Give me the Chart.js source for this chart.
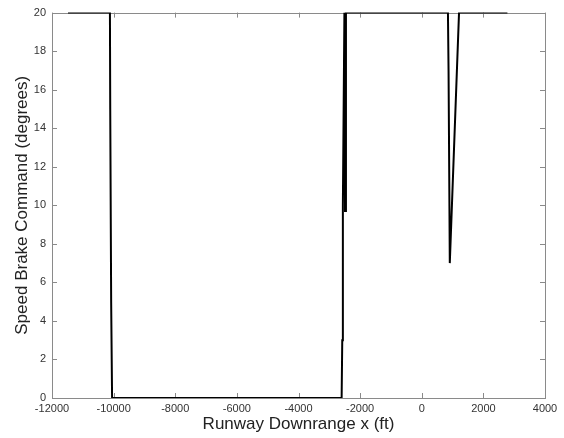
<!DOCTYPE html>
<html>
<head>
<meta charset="utf-8">
<script src="https://cdn.jsdelivr.net/npm/chart.js@4"></script>
<style>
    html, body { margin: 0; padding: 0; background: #fff; }
    #wrap { width: 564px; height: 438px; }
</style>
</head>
<body>
<div id="wrap"><canvas id="brakeChart" width="564" height="438"></canvas></div>
<script>
// speed brake command vs runway downrange
var downrange = [-11480, -10120, -10110, -10080, -10050, -2600, -2580, -2560, -2510, -2490, -2460, 850, 870, 910, 1210, 2780];
var brakeCmd = [20, 20, 15, 5, 0, 0, 3, 10, 20, 9.7, 20, 20, 17, 7, 20, 20];

var X_MIN = -12000, X_MAX = 4000, X_STEP = 2000;
var Y_MIN = 0, Y_MAX = 20, Y_STEP = 2;

var points = downrange.map(function (x, i) {
    return { x: x, y: brakeCmd[i] };
});

// matlab style box with ticks pointing inward on all four sides
var boxPlugin = {
    id: 'box',
    beforeDatasetsDraw: function (chart) {
        var ctx = chart.ctx;
        var a = chart.chartArea;
        var xs = chart.scales.x;
        var ys = chart.scales.y;
        var len = 5;
        ctx.save();
        ctx.strokeStyle = '#8a8a8a';
        ctx.lineWidth = 1;
        ctx.beginPath();
        xs.ticks.forEach(function (t) {
            var px = Math.round(xs.getPixelForValue(t.value)) + 0.5;
            ctx.moveTo(px, a.bottom);
            ctx.lineTo(px, a.bottom - len);
            ctx.moveTo(px, a.top);
            ctx.lineTo(px, a.top + len);
        });
        ys.ticks.forEach(function (t) {
            var py = Math.round(ys.getPixelForValue(t.value)) + 0.5;
            ctx.moveTo(a.left, py);
            ctx.lineTo(a.left + len, py);
            ctx.moveTo(a.right, py);
            ctx.lineTo(a.right - len, py);
        });
        ctx.stroke();
        ctx.strokeRect(Math.round(a.left) + 0.5, Math.round(a.top) + 0.5,
            Math.round(a.right - a.left), Math.round(a.bottom - a.top));
        ctx.restore();
    }
};

function plainNumber(value) {
    return String(value);
}

var ctx = document.getElementById('brakeChart').getContext('2d');
var brakeChart = new Chart(ctx, {
    type: 'line',
    data: {
        datasets: [{
            label: 'Speed Brake Command',
            data: points,
            borderColor: '#000',
            borderWidth: 2,
            pointRadius: 0,
            tension: 0,
            fill: false
        }]
    },
    options: {
        responsive: false,
        animation: false,
        layout: {
            padding: { top: 11, right: 19, left: 0, bottom: 0 }
        },
        plugins: {
            legend: { display: false },
            tooltip: { enabled: false }
        },
        scales: {
            x: {
                type: 'linear',
                min: X_MIN,
                max: X_MAX,
                border: { display: false },
                grid: { display: false, drawTicks: false },
                ticks: {
                    stepSize: X_STEP,
                    padding: 4,
                    maxRotation: 0,
                    color: '#333',
                    callback: plainNumber,
                    font: { family: 'Liberation Sans, Arial, sans-serif', size: 11 }
                },
                title: {
                    display: true,
                    text: 'Runway Downrange x (ft)',
                    color: '#222',
                    padding: { top: 0, bottom: 3 },
                    font: { family: 'Liberation Sans, Arial, sans-serif', size: 17 }
                },
                afterFit: function (scale) { scale.height = 40; }
            },
            y: {
                type: 'linear',
                min: Y_MIN,
                max: Y_MAX,
                border: { display: false },
                grid: { display: false, drawTicks: false },
                ticks: {
                    stepSize: Y_STEP,
                    padding: 6,
                    color: '#333',
                    callback: plainNumber,
                    font: { family: 'Liberation Sans, Arial, sans-serif', size: 11 }
                },
                title: {
                    display: true,
                    text: 'Speed Brake Command (degrees)',
                    color: '#222',
                    padding: { top: 12, bottom: 0 },
                    font: { family: 'Liberation Sans, Arial, sans-serif', size: 17 }
                },
                afterFit: function (scale) { scale.width = 52; }
            }
        }
    },
    plugins: [boxPlugin]
});
</script>
</body>
</html>
